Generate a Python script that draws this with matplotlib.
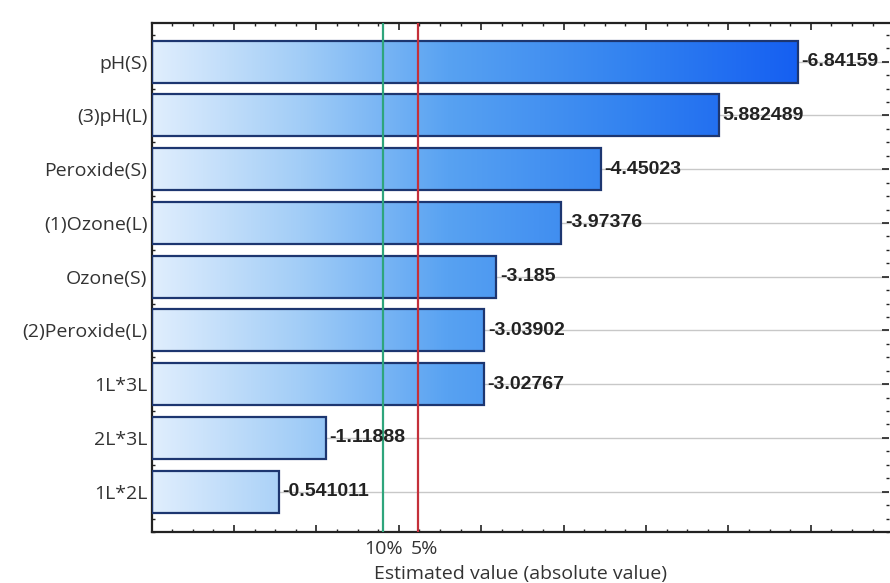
import numpy as np
import matplotlib
matplotlib.use('Agg')
import matplotlib.pyplot as plt
from matplotlib.colors import LinearSegmentedColormap
from matplotlib.ticker import MultipleLocator

# Dados do gráfico de Pareto (efeitos estimados)
fatores = ['pH(S)', '(3)pH(L)', 'Peroxide(S)', '(1)Ozone(L)', 'Ozone(S)',
           '(2)Peroxide(L)', '1L*3L', '2L*3L', '1L*2L']
efeitos = [-6.84159, 5.882489, -4.45023, -3.97376, -3.185,
           -3.03902, -3.02767, -1.11888, -0.541011]
# Valores críticos de t (10% e 5%)
limites = [1.812, 2.228]
rotulos_limites = ['10%', '5%']

xmin, xmax = -1, 7.95
pos = np.arange(len(fatores))
absol = np.abs(efeitos)

fig = plt.figure(figsize=(8.9, 5.83), dpi=100)
ax = fig.add_axes([0.1704, 0.0875, 0.8286, 0.8735])

# Grade horizontal
for p in pos:
    ax.axhline(p, color='#c8c8c8', linewidth=1, zorder=0)

# Barras com gradiente
cmap = LinearSegmentedColormap.from_list(
    'azul', [(0.0, '#e0eefd'), (0.2, '#a2cdf7'), (0.4, '#58a2f2'),
             (0.65, '#3282f0'), (0.87, '#1660f2'), (1.0, '#0f55f0')])
grad = np.linspace(0, 1, 256).reshape(1, -1)
barras = ax.barh(pos, absol - xmin, left=xmin, height=0.78,
                 facecolor='none', edgecolor='#1d3670', linewidth=1.6, zorder=3)
for b in barras:
    im = ax.imshow(grad, cmap=cmap, aspect='auto', extent=[xmin, xmax, 8.75, -0.725],
                   zorder=2, interpolation='bicubic')
    im.set_clip_path(b)

# Rótulos dos valores
for p, a, e in zip(pos, absol, efeitos):
    ax.text(a + 0.04, p, str(e), va='center', ha='left', fontsize=14,
            fontweight='bold', family='Liberation Sans', color='#222222', zorder=5)

# Linhas de significância
cores = ['#2fa57c', '#c4303a']
for lim, cor in zip(limites, cores):
    ax.axvline(lim, color=cor, linewidth=1.6, zorder=4)
for lim, rot, dx in zip(limites, rotulos_limites, [0, 0.08]):
    ax.text(lim + dx, -0.016, rot, transform=ax.get_xaxis_transform(),
            ha='center', va='top', fontsize=14, family='Open Sans', color='#333333')

ax.set_xlim(xmin, xmax)
ax.set_ylim(8.75, -0.725)
ax.set_yticks(pos)
ax.set_yticklabels(fatores, fontsize=14, family='Open Sans', color='#333333')
ax.yaxis.set_minor_locator(MultipleLocator(0.25))
ax.xaxis.set_major_locator(MultipleLocator(1))
ax.xaxis.set_minor_locator(MultipleLocator(0.25))
ax.set_xticklabels([])
ax.tick_params(which='both', direction='in', top=True, right=True, color='#222222')
ax.tick_params(which='major', length=5, width=1.2)
ax.tick_params(which='minor', length=2.5, width=1)
ax.tick_params(axis='y', which='major', pad=3)

ax.set_xlabel('Estimated value (absolute value)', fontsize=14, family='Open Sans',
              color='#333333', labelpad=20)

for s in ['left', 'bottom', 'top']:
    ax.spines[s].set_linewidth(1.6)
    ax.spines[s].set_color('#222222')
ax.spines['right'].set_visible(False)

fig.savefig('out.png', dpi=100)
